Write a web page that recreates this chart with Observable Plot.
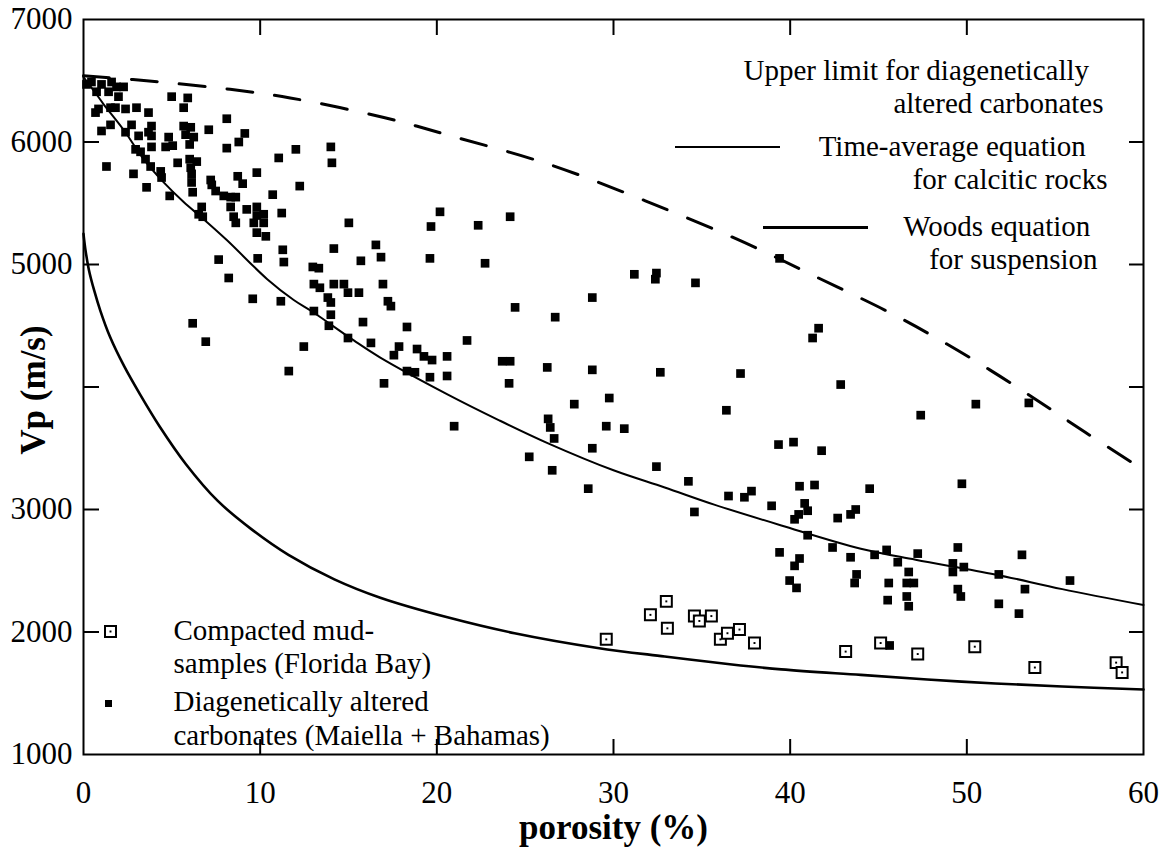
<!DOCTYPE html>
<html><head><meta charset="utf-8">
<script src="https://cdn.jsdelivr.net/npm/d3@7"></script>
<script src="https://cdn.jsdelivr.net/npm/@observablehq/plot@0.6"></script>
<style>
html,body{margin:0;padding:0;background:#fff;}
#chart{position:relative;width:1164px;height:856px;overflow:hidden;}
.sample{position:absolute;background:#000;}
</style></head><body><div id="chart"></div>
<script>
// ---- tick values ----
const xTickLabels = [0, 10, 20, 30, 40, 50, 60];
const xInnerTicks = [10, 20, 30, 40, 50];
const yTickLabels = [1000, 2000, 3000, 5000, 6000, 7000];
const yInnerTicks = [2000, 3000, 4000, 5000, 6000];

// ---- Diagenetically altered carbonates (Maiella + Bahamas): filled squares ----
const altPorosity = [
 0.17,0.45,0.74,1.02,1.42,1.59,1.87,1.98,2.27,0.85,0.68,1.53,1.81,2.38,3.00,1.53,1.02,2.72,2.38,1.30,
 2.83,3.12,3.68,3.85,3.68,3.85,2.95,3.23,3.85,3.51,3.80,4.37,4.42,3.57,4.88,4.82,4.65,5.05,5.33,4.99,
 5.90,5.67,5.67,6.07,5.78,6.24,6.01,6.01,6.41,6.07,6.12,6.12,6.18,7.09,7.20,7.26,7.48,7.94,8.33,8.62,
 8.33,8.50,8.62,9.24,9.81,9.81,10.20,9.64,10.20,9.81,10.32,6.69,6.52,6.75,8.11,8.11,8.79,9.13,8.73,9.01,
 9.81,10.71,11.22,11.05,12.02,12.24,14.00,14.06,7.65,8.22,9.86,11.28,11.34,12.98,13.32,14.17,15.02,16.55,16.84,15.70,
 20.18,19.67,22.34,24.15,19.61,22.73,31.18,32.43,39.40,6.18,6.92,9.58,11.17,11.62,12.47,13.04,13.38,14.17,14.74,14.97,
 15.59,13.83,14.00,13.04,14.00,13.89,15.82,14.97,16.27,16.95,17.23,17.40,18.31,17.86,17.57,18.88,19.27,19.73,18.31,18.76,
 19.61,20.58,20.58,21.71,20.98,17.01,23.70,24.15,24.09,24.43,26.70,28.80,26.25,28.80,27.78,29.76,26.30,26.42,26.64,25.23,
 26.53,28.80,29.59,30.61,28.57,32.65,32.43,34.24,34.58,37.19,36.39,36.51,37.41,37.81,38.95,39.34,39.40,32.37,34.64,41.61,
 41.27,42.86,47.39,50.51,53.51,40.19,41.78,40.53,41.38,44.50,49.72,40.82,40.99,40.48,40.25,42.69,43.42,43.71,40.99,40.53,
 40.25,42.40,43.42,44.78,45.46,46.09,47.22,46.71,49.49,49.21,49.21,49.83,51.81,53.12,43.76,55.84,43.65,39.97,40.36,45.58,
 46.60,47.00,45.52,46.60,46.71,49.49,49.66,51.81,53.29,52.95,45.63
];
const altVp = [
 6470,6490,6410,6470,6410,6490,6450,6370,6450,6270,6240,6280,6280,6270,6280,6140,6090,6140,6080,5800,
 5740,6050,6240,6130,6080,6050,5940,5920,5960,5860,5800,5760,5710,5630,5560,6040,5960,5970,5830,6370,
 6360,6280,6130,6120,6060,6040,5980,5860,5840,5790,5740,5670,5590,6100,5690,5650,5600,5560,5550,5550,
 5470,5390,5340,5450,5470,5400,5410,5340,5340,5260,5230,5470,5410,5390,6190,5950,6000,6070,5720,5660,
 5750,5570,5420,5870,5940,5640,5960,5830,5040,4890,5050,5120,5020,4980,4970,5130,5340,5160,5060,5030,
 5430,5310,5320,5390,5050,5010,4920,4930,5050,4520,4370,4720,4700,4130,4330,4840,4810,4840,4840,4770,
 4770,4730,4690,4620,4590,4500,4530,4400,4360,4840,4700,4660,4490,4330,4260,4310,4250,4220,4130,4120,
 4080,4250,4090,4380,3680,4030,4210,4210,4030,4650,4570,4730,4160,4140,3860,3910,3740,3670,3580,3430,
 3320,3500,3680,3660,3170,4120,3350,3230,2980,4110,3810,3110,3100,3150,3030,3530,2650,4880,4850,4480,
 4400,4020,3770,3860,3870,3550,3480,3190,3200,3170,3210,3050,2990,2960,2920,2930,2960,3000,2790,2600,
 2540,2690,2610,2630,2670,2570,2640,2490,2690,2560,2490,2530,2470,2630,2470,2420,2400,2420,2360,2400,
 2400,2400,2260,2290,2210,2350,2290,2230,2350,2150,1890
];

// ---- Compacted mud-samples (Florida Bay): open squares ----
const mudPorosity = [29.59,32.09,32.99,33.05,34.58,34.86,35.54,36.05,36.45,37.13,37.98,43.14,45.12,47.22,50.45,53.85,58.45,58.79];
const mudVp       = [1940,2140,2250,2030,2130,2090,2130,1940,1990,2020,1910,1840,1910,1820,1880,1710,1750,1670];

// ---- curves ----
const upperPorosity = [0,2.8,8.3,11.7,17.0,20.8,26.3,31.8,37.4,41.6,45.6,48.4,51.3,54.1,56.7,59.5];
const upperVp       = [6540,6510,6430,6360,6200,6050,5820,5520,5180,4890,4610,4390,4140,3880,3630,3370];

const timePorosity = [0,0.68,1.13,2.27,3.40,4.54,5.67,6.80,8.11,10.4,11.9,13.0,15.3,16.8,20.6,23.5,26.3,30.0,32.9,35.7,39.5,44.0,47.1,51.6,55.4,60];
const timeVp       = [6530,6400,6310,6100,5860,5670,5510,5370,5200,4880,4710,4610,4380,4240,3940,3730,3540,3320,3180,3040,2870,2680,2590,2470,2350,2220];

const woodsPorosity = [0,0.1,0.3,0.6,0.96,1.5,2.3,3.2,4.3,5.8,7.6,9.5,11.6,14.2,16.8,20.6,24.4,29.1,32.9,36.7,39.5,44.0,49.7,55.4,60];
const woodsVp       = [5250,5130,4960,4790,4620,4410,4170,3940,3680,3370,3070,2840,2630,2430,2280,2120,1990,1870,1800,1735,1695,1650,1595,1555,1530];

// ---- text ----
const yTitle = "Vp (m/s)";
const xTitle = "porosity (%)";
const noteUpper = ["Upper limit for diagenetically", "altered carbonates"];
const noteTime = ["Time-average equation", "for calcitic rocks"];
const noteWoods = ["Woods equation", "for suspension"];
const legendMud = ["Compacted mud-", "samples (Florida Bay)"];
const legendAlt = ["Diagenetically altered", "carbonates (Maiella + Bahamas)"];

// ---- tables ----
const zipPV = (P, V) => P.map((p, i) => ({porosity: p, vp: V[i]}));
const alt = zipPV(altPorosity, altVp);
const mud = zipPV(mudPorosity, mudVp);
const upper = zipPV(upperPorosity, upperVp);
const time = zipPV(timePorosity, timeVp);
const woods = zipPV(woodsPorosity, woodsVp);

const FONT = "'Liberation Serif','Times New Roman',Times,serif";
// two-line note, bottom line's baseline at the anchor; pad = trailing spaces on first line
const block = (lines, pad, anchor, ta, dx, dy, lh) =>
  Plot.text([lines[0] + " ".repeat(pad) + "\n" + lines[1]], {
    frameAnchor: anchor, textAnchor: ta, lineAnchor: "bottom", lineHeight: lh,
    dx, dy, fontSize: 29, fontFamily: FONT, fill: "black"
  });

const plot = Plot.plot({
  width: 1164, height: 856,
  marginLeft: 83, marginRight: 21, marginTop: 19, marginBottom: 102,
  x: {domain: [0, 60]},
  y: {domain: [1000, 7000]},
  style: {fontFamily: FONT, fontSize: "31px", background: "white", color: "black", overflow: "visible"},
  marks: [
    Plot.line(woods, {x: "porosity", y: "vp", curve: "catmull-rom", stroke: "black", strokeWidth: 2.6}),
    Plot.line(time, {x: "porosity", y: "vp", curve: "catmull-rom", stroke: "black", strokeWidth: 2}),
    Plot.line(upper, {x: "porosity", y: "vp", curve: "catmull-rom", stroke: "black", strokeWidth: 3, strokeDasharray: "26,22"}),
    Plot.dot(alt, {x: "porosity", y: "vp", symbol: "square", r: 4.9, fill: "black", stroke: "none"}),
    Plot.dot(mud, {x: "porosity", y: "vp", symbol: "square", r: 6.2, fill: "white", stroke: "black", strokeWidth: 2}),
    Plot.dot(mud, {x: "porosity", y: "vp", symbol: "square", r: 1.1, fill: "black", stroke: "none"}),
    Plot.frame({stroke: "black", strokeWidth: 2}),
    // inward ticks
    Plot.axisX({ticks: xInnerTicks, anchor: "bottom", tickSize: -15, tickFormat: () => "", label: null, strokeWidth: 2}),
    Plot.axisX({ticks: xInnerTicks, anchor: "top", tickSize: -15, tickFormat: () => "", label: null, strokeWidth: 2}),
    Plot.axisY({ticks: yInnerTicks, anchor: "left", tickSize: -16, tickFormat: () => "", label: null, strokeWidth: 2}),
    Plot.axisY({ticks: yInnerTicks, anchor: "right", tickSize: -15, tickFormat: () => "", label: null, strokeWidth: 2}),
    // tick labels
    Plot.axisX({ticks: xTickLabels, anchor: "bottom", tickSize: 0, tickPadding: 26, label: null,
      tickFormat: d => String(d), fontSize: 31, fontFamily: FONT, fill: "black"}),
    Plot.axisY({ticks: yTickLabels, anchor: "left", tickSize: 0, tickPadding: 11, label: null,
      tickFormat: d => String(d), fontSize: 31, fontFamily: FONT, fill: "black"}),
    // axis titles
    Plot.text([yTitle], {frameAnchor: "left", textAnchor: "middle", dx: -50, dy: 3, rotate: -90,
      fontWeight: "bold", fontSize: 35, fontFamily: FONT, fill: "black"}),
    Plot.text([xTitle], {frameAnchor: "bottom", textAnchor: "middle", dy: 84,
      fontWeight: "bold", fontSize: 35, fontFamily: FONT, fill: "black"}),
    // annotations (top right)
    block(noteUpper, 2, "top-right", "end", -40, 93, 1.12),
    block(noteTime, 3, "top-right", "end", -36, 169, 1.12),
    block(noteWoods, 1, "top-right", "end", -46, 249, 1.12),
    // legend (bottom left)
    Plot.dot([0], {frameAnchor: "bottom-left", dx: 27, dy: -123, symbol: "square", r: 6.2, fill: "white", stroke: "black", strokeWidth: 2}),
    Plot.dot([0], {frameAnchor: "bottom-left", dx: 27, dy: -123, symbol: "square", r: 1.1, fill: "black", stroke: "none"}),
    Plot.dot([0], {frameAnchor: "bottom-left", dx: 25, dy: -51, symbol: "square", r: 3.95, fill: "black", stroke: "none"}),
    block(legendMud, 0, "bottom-left", "start", 90, -82, 1.12),
    block(legendAlt, 0, "bottom-left", "start", 90, -10, 1.17)
  ]
});
const chart = document.getElementById("chart");
chart.appendChild(plot);
// line samples for the annotations
const s1 = document.createElement("div"); s1.className = "sample";
Object.assign(s1.style, {left: "675px", top: "146px", width: "105px", height: "2px"});
const s2 = document.createElement("div"); s2.className = "sample";
Object.assign(s2.style, {left: "763px", top: "226px", width: "105px", height: "3px"});
chart.appendChild(s1); chart.appendChild(s2);
</script></body></html>
